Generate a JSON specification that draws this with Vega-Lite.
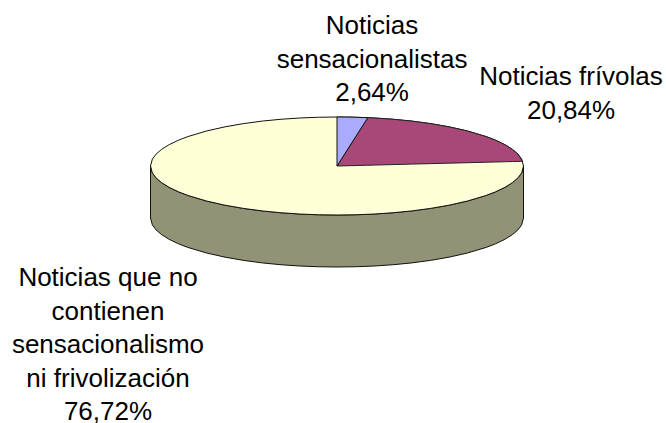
{"$schema":"https://vega.github.io/schema/vega-lite/v6.json","width":666,"height":423,"padding":0,"autosize":{"type":"none"},"background":"white","config":{"view":{"stroke":null}},
"datasets":{"outline":[
{"slice":"lado","x":-1,"y":0,"y2":-1.061},{"slice":"lado","x":-0.99,"y":-0.141,"y2":-1.202},{"slice":"lado","x":-0.97,"y":-0.243,"y2":-1.304},{"slice":"lado","x":-0.94,"y":-0.341,"y2":-1.402},{"slice":"lado","x":-0.9,"y":-0.436,"y2":-1.497},{"slice":"lado","x":-0.85,"y":-0.527,"y2":-1.588},{"slice":"lado","x":-0.8,"y":-0.6,"y2":-1.661},{"slice":"lado","x":-0.7,"y":-0.714,"y2":-1.775},{"slice":"lado","x":-0.6,"y":-0.8,"y2":-1.861},{"slice":"lado","x":-0.5,"y":-0.866,"y2":-1.927},{"slice":"lado","x":-0.4,"y":-0.917,"y2":-1.978},{"slice":"lado","x":-0.3,"y":-0.954,"y2":-2.015},{"slice":"lado","x":-0.2,"y":-0.98,"y2":-2.041},{"slice":"lado","x":-0.1,"y":-0.995,"y2":-2.056},{"slice":"lado","x":0,"y":-1,"y2":-2.061},{"slice":"lado","x":0.1,"y":-0.995,"y2":-2.056},{"slice":"lado","x":0.2,"y":-0.98,"y2":-2.041},{"slice":"lado","x":0.3,"y":-0.954,"y2":-2.015},{"slice":"lado","x":0.4,"y":-0.917,"y2":-1.978},{"slice":"lado","x":0.5,"y":-0.866,"y2":-1.927},{"slice":"lado","x":0.6,"y":-0.8,"y2":-1.861},{"slice":"lado","x":0.7,"y":-0.714,"y2":-1.775},{"slice":"lado","x":0.8,"y":-0.6,"y2":-1.661},{"slice":"lado","x":0.85,"y":-0.527,"y2":-1.588},{"slice":"lado","x":0.9,"y":-0.436,"y2":-1.497},{"slice":"lado","x":0.94,"y":-0.341,"y2":-1.402},{"slice":"lado","x":0.97,"y":-0.243,"y2":-1.304},{"slice":"lado","x":0.99,"y":-0.141,"y2":-1.202},{"slice":"lado","x":1,"y":0,"y2":-1.061},
{"slice":"ninguna","x":-1,"y":0,"y2":0},{"slice":"ninguna","x":-0.99,"y":0.141,"y2":-0.141},{"slice":"ninguna","x":-0.97,"y":0.243,"y2":-0.243},{"slice":"ninguna","x":-0.94,"y":0.341,"y2":-0.341},{"slice":"ninguna","x":-0.9,"y":0.436,"y2":-0.436},{"slice":"ninguna","x":-0.85,"y":0.527,"y2":-0.527},{"slice":"ninguna","x":-0.8,"y":0.6,"y2":-0.6},{"slice":"ninguna","x":-0.7,"y":0.714,"y2":-0.714},{"slice":"ninguna","x":-0.6,"y":0.8,"y2":-0.8},{"slice":"ninguna","x":-0.5,"y":0.866,"y2":-0.866},{"slice":"ninguna","x":-0.4,"y":0.917,"y2":-0.917},{"slice":"ninguna","x":-0.3,"y":0.954,"y2":-0.954},{"slice":"ninguna","x":-0.2,"y":0.98,"y2":-0.98},{"slice":"ninguna","x":-0.1,"y":0.995,"y2":-0.995},{"slice":"ninguna","x":0,"y":1,"y2":-1},{"slice":"ninguna","x":0.1,"y":0.995,"y2":-0.995},{"slice":"ninguna","x":0.2,"y":0.98,"y2":-0.98},{"slice":"ninguna","x":0.3,"y":0.954,"y2":-0.954},{"slice":"ninguna","x":0.4,"y":0.917,"y2":-0.917},{"slice":"ninguna","x":0.5,"y":0.866,"y2":-0.866},{"slice":"ninguna","x":0.6,"y":0.8,"y2":-0.8},{"slice":"ninguna","x":0.7,"y":0.714,"y2":-0.714},{"slice":"ninguna","x":0.8,"y":0.6,"y2":-0.6},{"slice":"ninguna","x":0.85,"y":0.527,"y2":-0.527},{"slice":"ninguna","x":0.9,"y":0.436,"y2":-0.436},{"slice":"ninguna","x":0.94,"y":0.341,"y2":-0.341},{"slice":"ninguna","x":0.97,"y":0.243,"y2":-0.243},{"slice":"ninguna","x":0.99,"y":0.141,"y2":-0.141},{"slice":"ninguna","x":1,"y":0,"y2":0},
{"slice":"frivolas","x":0,"y":0,"y2":0},{"slice":"frivolas","x":0.165,"y":0.986,"y2":0.016},{"slice":"frivolas","x":0.2,"y":0.98,"y2":0.019},{"slice":"frivolas","x":0.3,"y":0.954,"y2":0.029},{"slice":"frivolas","x":0.4,"y":0.917,"y2":0.039},{"slice":"frivolas","x":0.5,"y":0.866,"y2":0.048},{"slice":"frivolas","x":0.6,"y":0.8,"y2":0.058},{"slice":"frivolas","x":0.7,"y":0.714,"y2":0.067},{"slice":"frivolas","x":0.8,"y":0.6,"y2":0.077},{"slice":"frivolas","x":0.85,"y":0.527,"y2":0.082},{"slice":"frivolas","x":0.9,"y":0.436,"y2":0.087},{"slice":"frivolas","x":0.94,"y":0.341,"y2":0.091},{"slice":"frivolas","x":0.97,"y":0.243,"y2":0.093},{"slice":"frivolas","x":0.9954,"y":0.096,"y2":0.096},
{"slice":"sensacionalistas","x":0,"y":1,"y2":0},{"slice":"sensacionalistas","x":0.05,"y":0.999,"y2":0.299},{"slice":"sensacionalistas","x":0.1,"y":0.995,"y2":0.597},{"slice":"sensacionalistas","x":0.165,"y":0.986,"y2":0.985}
],
"labels":[
{"x":0.188,"y":2.857,"label":["Noticias","sensacionalistas","2,64%"]},
{"x":1.255,"y":1.816,"label":["Noticias frívolas","20,84%"]},
{"x":-1.228,"y":-2.286,"label":["Noticias que no","contienen","sensacionalismo","\u00a0ni frivolización","76,72%"]}
]},
"encoding":{
"x":{"field":"x","type":"quantitative","axis":null,"scale":{"domain":[-1.807,1.764],"nice":false,"zero":false}},
"y":{"field":"y","type":"quantitative","axis":null,"scale":{"domain":[-5.245,3.388],"nice":false,"zero":false}}
},
"layer":[
{"data":{"name":"outline"},"transform":[{"filter":"datum.slice === 'lado'"}],"mark":{"type":"area","orient":"vertical","fill":"#929276","stroke":"#111111","strokeWidth":1},"encoding":{"y2":{"field":"y2"}}},
{"data":{"name":"outline"},"transform":[{"filter":"datum.slice === 'ninguna'"}],"mark":{"type":"area","orient":"vertical","fill":"#FFFFD8","stroke":"#111111","strokeWidth":1},"encoding":{"y2":{"field":"y2"}}},
{"data":{"name":"outline"},"transform":[{"filter":"datum.slice === 'frivolas'"}],"mark":{"type":"area","orient":"vertical","fill":"#A84878","stroke":"#222222","strokeWidth":1},"encoding":{"y2":{"field":"y2"}}},
{"data":{"name":"outline"},"transform":[{"filter":"datum.slice === 'sensacionalistas'"}],"mark":{"type":"area","orient":"vertical","fill":"#AAAAFF","stroke":"#111111","strokeWidth":1},"encoding":{"y2":{"field":"y2"}}},
{"data":{"name":"labels"},"mark":{"type":"text","font":"Liberation Sans","fontSize":26,"lineHeight":33.6,"align":"center","baseline":"middle","color":"#000000"},"encoding":{"text":{"field":"label"}}}
]}
